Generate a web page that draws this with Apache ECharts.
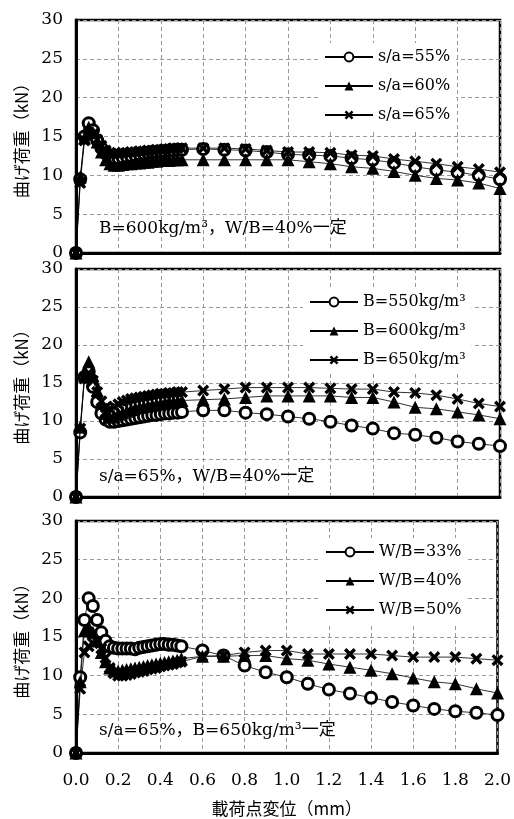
<!DOCTYPE html>
<html>
<head>
<meta charset="utf-8">
<script src="https://cdn.jsdelivr.net/npm/echarts@6/dist/echarts.min.js"></script>
<style>
  html, body { margin: 0; padding: 0; background: #fff; }
  #chart { width: 514px; height: 819px; }
</style>
</head>
<body>
<div id="chart"></div>
<script>
// 載荷点変位 (mm)
const disp = [0, 0.02, 0.04, 0.06, 0.08, 0.10, 0.12, 0.14, 0.16, 0.18, 0.20, 0.22, 0.24, 0.26, 0.28, 0.30,
  0.32, 0.34, 0.36, 0.38, 0.40, 0.42, 0.44, 0.46, 0.48, 0.50,
  0.6, 0.7, 0.8, 0.9, 1.0, 1.1, 1.2, 1.3, 1.4, 1.5, 1.6, 1.7, 1.8, 1.9, 2.0];

// 上段: s/a の影響 (B=600kg/m3, W/B=40%)
const sa55 = [0, 9.5, 15.0, 16.7, 15.8, 14.5, 13.5, 12.8, 12.4, 12.2, 12.2, 12.3, 12.4, 12.5, 12.6, 12.7,
  12.8, 12.9, 13.0, 13.0, 13.1, 13.1, 13.2, 13.2, 13.3, 13.3,
  13.4, 13.3, 13.2, 13.0, 12.7, 12.6, 12.5, 12.2, 12.0, 11.6, 11.1, 10.7, 10.4, 10.0, 9.5];
const sa60 = [0, 9.8, 14.8, 16.2, 15.5, 14.3, 13.0, 12.0, 11.5, 11.3, 11.3, 11.4, 11.5, 11.5, 11.6, 11.6,
  11.7, 11.7, 11.8, 11.8, 11.9, 11.9, 11.9, 12.0, 12.0, 12.0,
  12.0, 12.0, 12.0, 12.0, 12.0, 11.75, 11.5, 11.1, 10.9, 10.5, 10.0, 9.6, 9.4, 9.0, 8.3];
const sa65 = [0, 9.0, 14.5, 15.5, 15.3, 14.6, 13.8, 13.2, 12.9, 12.8, 12.8, 12.9, 12.9, 13.0, 13.0, 13.1,
  13.1, 13.2, 13.2, 13.3, 13.3, 13.4, 13.4, 13.5, 13.5, 13.5,
  13.5, 13.5, 13.4, 13.2, 13.0, 13.0, 12.9, 12.6, 12.5, 12.1, 11.8, 11.5, 11.1, 10.8, 10.4];

// 中段: B の影響 (s/a=65%, W/B=40%)
const b550 = [0, 8.5, 15.8, 16.5, 14.5, 12.5, 11.0, 10.2, 9.9, 9.9, 10.0, 10.1, 10.2, 10.3, 10.4, 10.5,
  10.6, 10.7, 10.8, 10.8, 10.9, 11.0, 11.0, 11.1, 11.1, 11.2,
  11.4, 11.4, 11.1, 10.9, 10.6, 10.3, 9.9, 9.4, 9.0, 8.4, 8.2, 7.8, 7.3, 7.0, 6.7];
const b600 = [0, 9.2, 16.0, 17.8, 16.0, 14.0, 12.3, 11.0, 10.5, 10.6, 10.9, 11.1, 11.3, 11.5, 11.7, 11.8,
  11.9, 12.0, 12.1, 12.2, 12.3, 12.4, 12.5, 12.5, 12.6, 12.7,
  12.8, 12.9, 13.1, 13.3, 13.3, 13.3, 13.3, 13.1, 13.1, 12.5, 11.8, 11.6, 11.2, 10.8, 10.3];
const b650 = [0, 9.0, 15.6, 16.3, 15.3, 13.8, 12.6, 11.8, 11.6, 11.9, 12.2, 12.5, 12.7, 12.9, 13.0, 13.1,
  13.2, 13.3, 13.4, 13.5, 13.6, 13.6, 13.7, 13.7, 13.8, 13.8,
  14.0, 14.2, 14.4, 14.4, 14.4, 14.4, 14.3, 14.2, 14.2, 13.8, 13.7, 13.4, 12.9, 12.3, 11.9];

// 下段: W/B の影響 (s/a=65%, B=650kg/m3)
const wb33 = [0, 9.8, 17.2, 20.0, 19.0, 17.2, 15.6, 14.5, 13.8, 13.6, 13.5, 13.5, 13.5, 13.5, 13.4, 13.6,
  13.7, 13.8, 13.9, 14.0, 14.1, 14.1, 14.0, 14.0, 13.9, 13.8,
  13.25, 12.6, 11.3, 10.45, 9.8, 8.95, 8.2, 7.7, 7.15, 6.6, 6.15, 5.7, 5.4, 5.2, 4.9];
const wb40 = [0, 9.2, 15.8, 16.3, 15.6, 14.5, 13.0, 11.8, 11.0, 10.7, 10.6, 10.7, 10.8, 10.9, 11.0, 11.1,
  11.2, 11.3, 11.4, 11.5, 11.6, 11.7, 11.8, 11.9, 12.0, 12.2,
  12.5, 12.5, 12.6, 12.6, 12.2, 12.0, 11.5, 11.1, 10.7, 10.25, 9.7, 9.2, 8.95, 8.3, 7.75];
const wb50 = [0, 8.3, 13.0, 13.8, 14.2, 14.4, 13.5, 12.3, 11.0, 10.3, 10.0, 10.0, 10.1, 10.2, 10.4, 10.5,
  10.6, 10.8, 10.9, 11.0, 11.2, 11.3, 11.4, 11.5, 11.7, 11.8,
  12.5, 12.6, 13.0, 13.25, 13.25, 12.8, 12.8, 12.8, 12.8, 12.6, 12.4, 12.4, 12.4, 12.2, 12.0];

const namesTop = ['s/a=55%', 's/a=60%', 's/a=65%'];
const namesMid = ['B=550kg/m³', 'B=600kg/m³', 'B=650kg/m³'];
const namesBot = ['W/B=33%', 'W/B=40%', 'W/B=50%'];
const notes = ['B=600kg/m³，W/B=40%一定', 's/a=65%，W/B=40%一定', 's/a=65%，B=650kg/m³一定'];

const serif = "'DejaVu Serif', 'Noto Sans CJK JP', serif";
const cjk = "'Noto Sans CJK JP', 'DejaVu Serif', sans-serif";
const crossPath = 'path://M0,2 L2,0 L5,3 L8,0 L10,2 L7,5 L10,8 L8,10 L5,7 L2,10 L0,8 L3,5 Z';

// パネル配置
const panels = [
  { top: 20, height: 233, legendTop: 43, legendLeft: 318, noteTop: 220 },
  { top: 269, height: 228, legendTop: 288, legendLeft: 303, noteTop: 468 },
  { top: 521, height: 232, legendTop: 538, legendLeft: 319, noteTop: 722 },
];

const markerStyles = [
  { symbol: 'circle', symbolSize: 11, itemStyle: { color: '#fff', borderColor: '#000', borderWidth: 3 } },
  { symbol: 'triangle', symbolSize: 13, itemStyle: { color: '#000' } },
  { symbol: crossPath, symbolSize: 12, itemStyle: { color: '#000' } },
];

const toPairs = (ys) => disp.map((x, i) => [x, ys[i]]);

const makeSeries = (name, ys, kind, idx) => ({
  name,
  type: 'line',
  xAxisIndex: idx,
  yAxisIndex: idx,
  data: toPairs(ys),
  symbol: markerStyles[kind].symbol,
  symbolSize: markerStyles[kind].symbolSize,
  showAllSymbol: true,
  itemStyle: markerStyles[kind].itemStyle,
  lineStyle: { color: '#000', width: 0.8 },
  clip: false,
  z: 3 + kind,
});

const chart = echarts.init(document.getElementById('chart'));

const option = {
  animation: false,
  backgroundColor: '#fff',
  grid: panels.map((p) => ({
    left: 76,
    right: 14,
    top: p.top,
    height: p.height,
    show: true,
    borderColor: '#000',
    borderWidth: 2.5,
    backgroundColor: 'transparent',
  })),
  xAxis: panels.map((p, i) => ({
    type: 'value',
    gridIndex: i,
    min: 0,
    max: 2,
    interval: 0.2,
    axisLine: { show: true, lineStyle: { color: '#000', width: 3 } },
    axisTick: { show: false },
    axisLabel: {
      show: i === 2,
      margin: 19,
      color: '#000',
      fontSize: 17,
      fontFamily: serif,
      formatter: (v) => v.toFixed(1),
    },
    splitLine: { show: true, lineStyle: { color: '#999', width: 1, type: [4, 3] } },
    name: i === 2 ? '載荷点変位（mm）' : '',
    nameLocation: 'middle',
    nameGap: 47,
    nameTextStyle: { color: '#000', fontSize: 17, fontFamily: cjk },
  })),
  yAxis: panels.map((p, i) => ({
    type: 'value',
    gridIndex: i,
    min: 0,
    max: 30,
    interval: 5,
    axisLine: { show: true, lineStyle: { color: '#000', width: 3 } },
    axisTick: { show: false },
    axisLabel: { margin: 13, color: '#000', fontSize: 17, fontFamily: serif },
    splitLine: { show: true, lineStyle: { color: '#999', width: 1, type: [4, 3] } },
    name: '曲げ荷重（kN）',
    nameLocation: 'middle',
    nameGap: 46,
    nameTextStyle: { color: '#000', fontSize: 17, fontFamily: cjk },
  })),
  legend: [namesTop, namesMid, namesBot].map((names, i) => ({
    data: names,
    orient: 'vertical',
    left: panels[i].legendLeft,
    top: panels[i].legendTop,
    itemWidth: 48,
    itemHeight: 11,
    itemGap: 9,
    padding: [4, 6],
    backgroundColor: '#fff',
    selectedMode: false,
    textStyle: { color: '#000', fontSize: 16, fontFamily: serif, lineHeight: 20 },
  })),
  graphic: notes.map((t, i) => ({
    type: 'text',
    left: 99,
    top: panels[i].noteTop,
    z: 10,
    style: { text: t, fill: '#000', fontSize: 17, fontFamily: serif },
  })),
  series: [
    makeSeries(namesTop[0], sa55, 0, 0),
    makeSeries(namesTop[1], sa60, 1, 0),
    makeSeries(namesTop[2], sa65, 2, 0),
    makeSeries(namesMid[0], b550, 0, 1),
    makeSeries(namesMid[1], b600, 1, 1),
    makeSeries(namesMid[2], b650, 2, 1),
    makeSeries(namesBot[0], wb33, 0, 2),
    makeSeries(namesBot[1], wb40, 1, 2),
    makeSeries(namesBot[2], wb50, 2, 2),
  ],
};

chart.setOption(option);
</script>
</body>
</html>
